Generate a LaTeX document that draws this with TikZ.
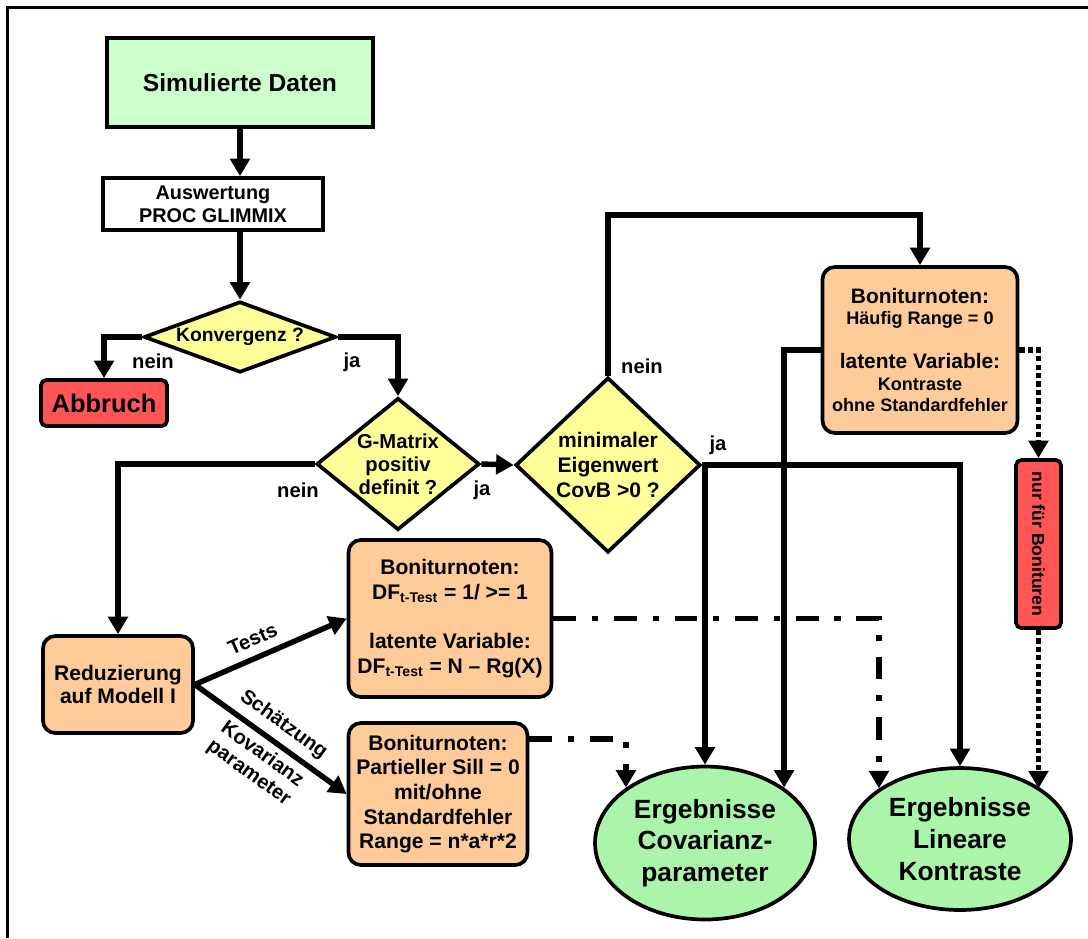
\documentclass[tikz,border=0pt]{standalone}
\usepackage{fontspec}
\setmainfont{Liberation Sans}
\usetikzlibrary{positioning}
\usetikzlibrary{shapes.geometric, arrows.meta}

\definecolor{hellgruen}{RGB}{204,255,204}
\definecolor{ergruen}{RGB}{170,245,170}
\definecolor{gelb}{RGB}{255,255,153}
\definecolor{apricot}{RGB}{255,204,153}
\definecolor{rot}{RGB}{255,85,85}

\newcommand{\schrift}[2]{\fontsize{#1}{#2}\selectfont\bfseries}

\tikzset{
  box/.style={draw, line width=2.1pt, align=center, inner sep=0pt},
  ablauf/.style={box, rounded corners=7pt, fill=apricot},
  frage/.style={box, diamond, fill=gelb},
  ergebnis/.style={box, ellipse, fill=ergruen, font=\schrift{15}{18}},
  jn/.style={font=\schrift{11.5}{13}, inner sep=1pt},
  flow/.style={line width=3.1pt, -{Triangle[length=10pt,width=11pt]}},
  strichpunkt/.style={flow, dash pattern=on 13pt off 9pt on 3.5pt off 9pt},
  gepunktet/.style={flow, dash pattern=on 3pt off 1.8pt}
}

\begin{document}
\begin{tikzpicture}[x=0.02cm, y=-0.02cm]
\useasboundingbox (0,0) rectangle (1088,938);
\draw[line width=1.4pt] (7.5,938) -- (7.5,7.5) -- (1088,7.5);

% Ablauf oben
\node[box, fill=hellgruen, minimum width=5.32cm, minimum height=1.78cm, font=\schrift{14}{17}] (sim) at (240,82.5) {Simulierte Daten};
\node[box, fill=white, minimum width=4.4cm, minimum height=1.04cm, font=\schrift{11.3}{13}] (glimmix) at (213,204) {Auswertung\\PROC GLIMMIX};
\node[frage, shape aspect=2.7, minimum width=3.84cm, minimum height=1.42cm, font=\schrift{11}{13}] (konv) at (240,337) {Konvergenz ?};
\node[box, rounded corners=3pt, fill=rot, minimum width=2.52cm, minimum height=0.92cm, font=\schrift{14.5}{17}] (abbruch) at (104,403) {Abbruch};
\node[frage, shape aspect=1.23, minimum width=3.26cm, minimum height=2.64cm, font=\schrift{11.5}{13}] (gmatrix) at (398,464) {G-Matrix\\positiv\\definit ?};
\node[frage, shape aspect=1.06, minimum width=3.7cm, minimum height=3.5cm, font=\schrift{12}{14}] (eigen) at (608,465) {minimaler\\Eigenwert\\CovB >0 ?};

% Kaesten
\node[ablauf, minimum width=3.9cm, minimum height=3.32cm, font=\schrift{10.3}{12.5}] (kontraste) at (920,350) {\schrift{11.9}{12.5}Boniturnoten:\\Häufig Range = 0\\[12pt]\schrift{11.9}{12.5}latente Variable:\\Kontraste\\ohne Standardfehler};
\node[ablauf, minimum width=3cm, minimum height=1.94cm, font=\schrift{12}{13.5}] (modell) at (118,684.5) {Reduzierung\\auf Modell I};
\node[ablauf, minimum width=4.06cm, minimum height=3.14cm, font=\schrift{12}{14}] (tests) at (450,618.5) {Boniturnoten:\\DF\textsubscript{t-Test} = 1/ >= 1\\[14pt]latente Variable:\\DF\textsubscript{t-Test} = N – Rg(X)};
\node[ablauf, minimum width=3.58cm, minimum height=2.84cm, font=\schrift{12}{14}] (sill) at (438,794) {Boniturnoten:\\Partieller Sill = 0\\mit/ohne\\Standardfehler\\Range = n*a*r*2};
\node[box, rounded corners=3pt, fill=rot, minimum width=0.9cm, minimum height=3.36cm] (nur) at (1038.5,544) {\rotatebox{-90}{\schrift{10}{12}nur für Bonituren}};

% Ergebnisse
\node[ergebnis, minimum width=4.4cm, minimum height=3.06cm] (cov) at (705,843) {Ergebnisse\\Covarianz-\\parameter};
\node[ergebnis, minimum width=4.44cm, minimum height=2.84cm] (lin) at (960,839) {Ergebnisse\\Lineare\\Kontraste};

\coordinate (oben) at (0,215);

% Pfeile
\draw[flow] (sim.south) -- (sim.south |- glimmix.north);
\draw[flow] (konv.north |- glimmix.south) -- (konv.north);
\draw[flow] (konv.west) -| (abbruch.north);
\draw[flow] (konv.east) -| (gmatrix.north);
\draw[flow] (gmatrix.east) -- (eigen.west);
\draw[flow] (gmatrix.west) -| (modell.north);
\draw[flow] (eigen.north) -- (eigen.north |- oben) -| (kontraste.north);
\draw[flow] (eigen.east) -| (lin.north);
\draw[flow] (eigen.east -| cov.north) -- (cov.north);
\draw[flow] (kontraste.west) -| (cov.35);
\draw[flow] (modell.east) -- node[sloped, above=4pt, pos=0.43, jn] (ltests) {Tests} (tests.west);
\draw[flow] (modell.east) -- node[sloped, above=3pt, pos=0.51, jn] (lschaetz) {Schätzung}
  node[sloped, below=2pt, pos=0.51, jn, align=center] (lkovar) {Kovarianz\\parameter} (sill.west);
\draw[strichpunkt] (tests.east) -| (lin.148);
\draw[strichpunkt] (sill.31) -| (cov.145);
\draw[gepunktet] (kontraste.east) -| (nur.north);
\draw[gepunktet] (nur.south) -- (nur.south |- lin.32);

% ja / nein
\node[jn] (n1) at (153,361) {nein};
\node[jn] (j1) at (352,362) {ja};
\node[jn] (n2) at (298,490) {nein};
\node[jn] (j2) at (482,490) {ja};
\node[jn] (n3) at (642,366) {nein};
\node[jn] (j3) at (718,445) {ja};
\end{tikzpicture}
\end{document}
